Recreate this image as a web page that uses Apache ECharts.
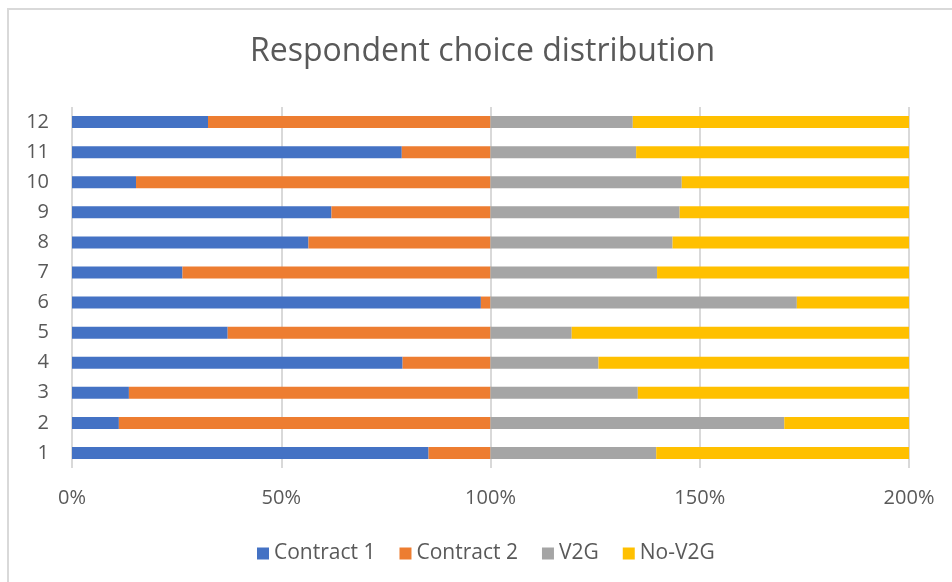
<!DOCTYPE html>
<html>
<head>
<meta charset="utf-8">
<script src="https://cdn.jsdelivr.net/npm/echarts@6/dist/echarts.min.js"></script>
<style>
html, body { margin: 0; padding: 0; background: #fff; overflow: hidden; }
#main { position: absolute; left: 0; top: 0; width: 952px; height: 582px; }
#frame { position: absolute; left: 7px; top: 8px; width: 1000px; height: 1000px;
         border-left: 2px solid #d9d9d9; border-top: 2px solid #d9d9d9; pointer-events: none; }
</style>
</head>
<body>
<div id="main"></div>
<div id="frame"></div>
<script>
// 数据：每一行 Contract 1 + Contract 2 = 100%，V2G + No-V2G = 100%
var categories = ['1', '2', '3', '4', '5', '6', '7', '8', '9', '10', '11', '12'];
var contract1 = [85.2, 11.2, 13.6, 79.0, 37.2, 97.7, 26.4, 56.5, 62.0, 15.3, 78.8, 32.5];
var contract2 = [14.8, 88.8, 86.4, 21.0, 62.8, 2.3, 73.6, 43.5, 38.0, 84.7, 21.2, 67.5];
var v2g = [39.6, 70.2, 35.2, 25.8, 19.4, 73.2, 39.8, 43.5, 45.2, 45.7, 34.8, 34.0];
var noV2g = [60.4, 29.8, 64.8, 74.2, 80.6, 26.8, 60.2, 56.5, 54.8, 54.3, 65.2, 66.0];
var xTicks = [0, 50, 100, 150, 200];

var myChart = echarts.init(document.getElementById('main'));
var font = "'Open Sans', sans-serif";

function makeSeries(name, data, color) {
    return {
        name: name,
        type: 'bar',
        stack: 'total',
        barWidth: 12,
        data: data,
        itemStyle: { color: color },
        emphasis: { disabled: true }
    };
}

var option = {
    animation: false,
    textStyle: { fontFamily: font },
    title: {
        text: 'Respondent choice distribution',
        left: 250,
        top: 36,
        padding: 0,
        textStyle: { fontSize: 32, fontWeight: 'normal', color: '#595959', fontFamily: font }
    },
    legend: {
        bottom: 13,
        left: 252,
        itemWidth: 12,
        itemHeight: 12,
        itemGap: 24,
        icon: 'rect',
        textStyle: { fontSize: 21, color: '#595959', fontFamily: font },
        data: ['Contract 1', 'Contract 2', 'V2G', 'No-V2G']
    },
    grid: {
        left: 72,
        right: 43,
        top: 107,
        bottom: 114,
        containLabel: false
    },
    xAxis: {
        type: 'value',
        min: xTicks[0],
        max: xTicks[xTicks.length - 1],
        interval: 50,
        axisLine: { show: false },
        axisTick: { show: false },
        splitLine: { lineStyle: { color: '#d9d9d9', width: 2 } },
        axisLabel: {
            margin: 20,
            fontSize: 20,
            color: '#595959',
            formatter: function (v) { return v + '%'; }
        }
    },
    yAxis: {
        type: 'category',
        data: categories,
        axisLine: { show: false },
        axisTick: { show: false },
        axisLabel: { margin: 23, fontSize: 20, color: '#595959' }
    },
    series: [
        makeSeries('Contract 1', contract1, '#4472C4'),
        makeSeries('Contract 2', contract2, '#ED7D31'),
        makeSeries('V2G', v2g, '#A5A5A5'),
        makeSeries('No-V2G', noV2g, '#FFC000')
    ]
};

myChart.setOption(option);
</script>
</body>
</html>
